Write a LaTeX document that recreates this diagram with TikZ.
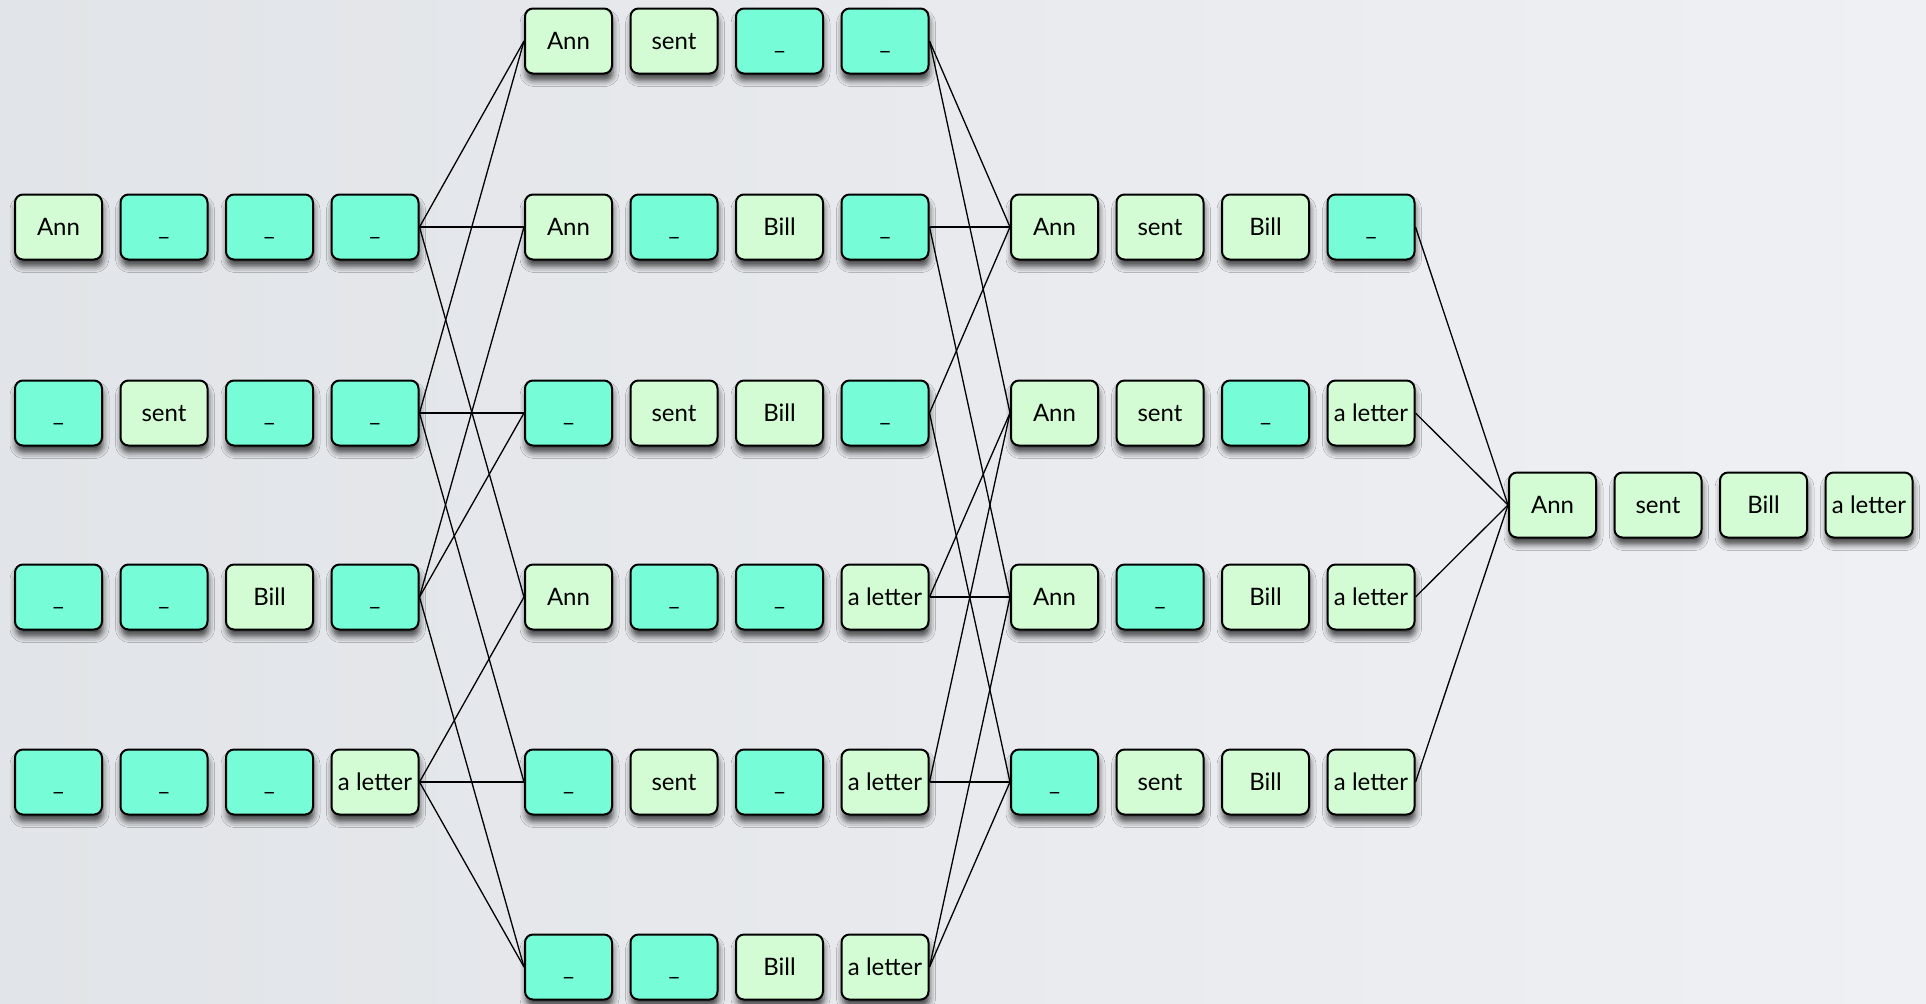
\documentclass[tikz,border=0pt]{standalone}
\usepackage{fontspec}
\setmainfont{Lato}
\usepackage{xcolor}
\usepackage{tikz}
\usetikzlibrary{shadows.blur}

\definecolor{wordgreen}{RGB}{212,252,212}
\definecolor{gapaqua}{RGB}{118,252,214}
\definecolor{bgleft}{RGB}{225,228,232}
\definecolor{bgright}{RGB}{239,240,243}

\tikzset{
  slot/.style={draw=black,line width=1pt,rounded corners=4pt,
    minimum width=43.5pt,minimum height=32.5pt,inner sep=0pt,
    text height=8.6pt,text depth=0pt,
    font=\fontsize{12}{14}\selectfont,
    blur shadow={shadow xshift=0.5pt,shadow yshift=-3.5pt,
      shadow blur radius=3pt,shadow opacity=70}},
  link/.style={line width=0.65pt,black}
}

\begin{document}
\begin{tikzpicture}[x=0.5pt,y=-0.5pt]
		\useasboundingbox (0,0) rectangle (1926,1003);
		\shade[left color=bgleft,right color=bgright] (0,0) rectangle (1926,1003);
		% one row of four slots per state
		\foreach \nm/\x/\y/\pa/\pb/\pc/\pd in {
			1000/58.5/227/1/0/0/0, 0100/58.5/413/0/1/0/0,
			0010/58.5/597/0/0/1/0, 0001/58.5/782/0/0/0/1,
			1100/568.5/41/1/1/0/0, 1010/568.5/227/1/0/1/0,
			0110/568.5/413/0/1/1/0, 1001/568.5/597/1/0/0/1,
			0101/568.5/782/0/1/0/1, 0011/568.5/967/0/0/1/1,
			1110/1054.5/227/1/1/1/0, 1101/1054.5/413/1/1/0/1,
			1011/1054.5/597/1/0/1/1, 0111/1054.5/782/0/1/1/1,
			1111/1552.5/505/1/1/1/1}
		{
			\foreach \f/\w [count=\i from 0] in {\pa/Ann,\pb/sent,\pc/Bill,\pd/a letter}
			{
				\ifnum\f=1 \def\col{wordgreen}\let\txt\w \else \def\col{gapaqua}\def\txt{\_}\fi
				\node[slot,fill=\col] (n\nm-\i) at (\x+105.5*\i,\y) {\txt};
			}
		}
		% links between states
		\foreach \a/\b in {1000/1100,1000/1010,1000/1001,0100/1100,0100/0110,0100/0101,
			0010/1010,0010/0110,0010/0011,0001/1001,0001/0101,0001/0011,
			1100/1110,1100/1101,1010/1110,1010/1011,0110/1110,0110/0111,
			1001/1101,1001/1011,0101/1101,0101/0111,0011/1011,0011/0111,
			1110/1111,1101/1111,1011/1111,0111/1111}
		\draw[link] (n\a-3.east) -- (n\b-0.west);
	\end{tikzpicture}
\end{document}
